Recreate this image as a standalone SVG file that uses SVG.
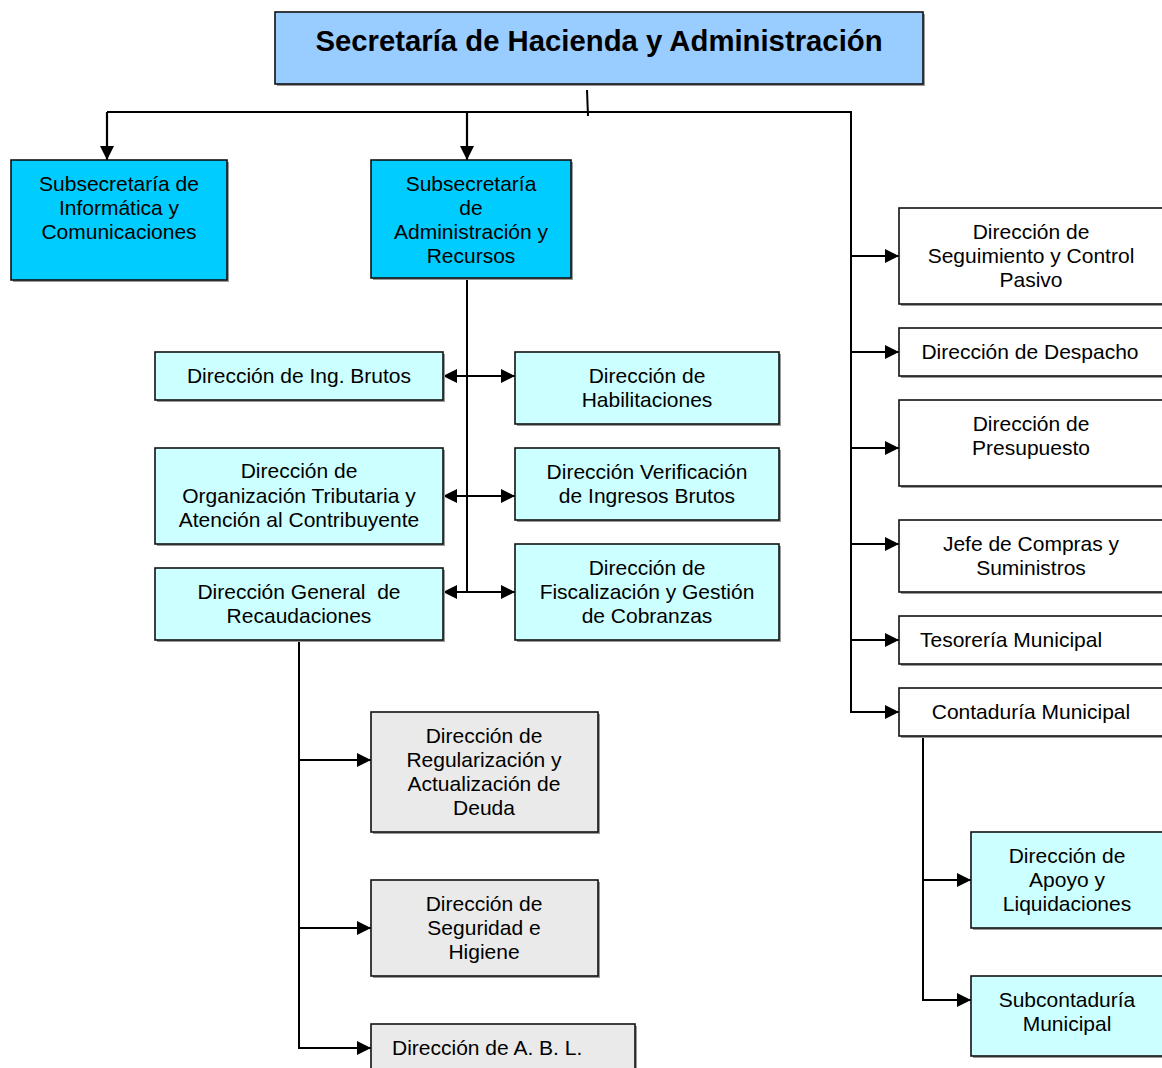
<svg xmlns="http://www.w3.org/2000/svg" width="1162" height="1068" viewBox="0 0 1162 1068">
  <defs>
    <marker id="ah" viewBox="0 0 14 14" refX="14" refY="7" markerWidth="14" markerHeight="14" markerUnits="userSpaceOnUse" orient="auto-start-reverse">
      <path d="M0,0 L14,7 L0,14 Z" fill="#000"/>
    </marker>
  </defs>
  <style>
    .box { stroke: #111; stroke-width: 1.6; }
    .shadow { fill: #9a9a9a; }
    .title { fill: #99ccff; }
    .sub { fill: #00ccff; }
    .light { fill: #ccffff; }
    .grey { fill: #eaeaea; }
    .white { fill: #ffffff; }
    text { font-family: "Liberation Sans", Arial, sans-serif; font-size: 21px; fill: #000; text-anchor: middle; }
    .l { text-anchor: start; }
    .t { font-size: 29.3px; font-weight: bold; }
    .wire { fill: none; stroke: #000; stroke-width: 2; }
    .arr { fill: none; stroke: #000; stroke-width: 2.2; marker-end: url(#ah); }
    .dbl { fill: none; stroke: #000; stroke-width: 2.2; marker-start: url(#ah); marker-end: url(#ah); }
  </style>

  <!-- connectors -->
  <g id="connectors">
    <path class="wire" d="M587,90 L588,116"/>
    <path class="wire" d="M107,112 L851,112 L851,712"/>
    <path class="arr" d="M107,112 L107,160"/>
    <path class="arr" d="M467,112 L467,160"/>
    <path class="wire" d="M467,278 L467,592"/>
    <path class="dbl" d="M443,376 L515,376"/>
    <path class="dbl" d="M443,496 L515,496"/>
    <path class="dbl" d="M443,592 L515,592"/>
    <path class="arr" d="M851,256 L899,256"/>
    <path class="arr" d="M851,352 L899,352"/>
    <path class="arr" d="M851,448 L899,448"/>
    <path class="arr" d="M851,544 L899,544"/>
    <path class="arr" d="M851,640 L899,640"/>
    <path class="arr" d="M850,712 L899,712"/>
    <path class="wire" d="M299,640 L299,1048"/>
    <path class="arr" d="M298,760 L371,760"/>
    <path class="arr" d="M298,928 L371,928"/>
    <path class="arr" d="M298,1048 L371,1048"/>
    <path class="wire" d="M923,736 L923,1000"/>
    <path class="arr" d="M922,880 L971,880"/>
    <path class="arr" d="M922,1000 L971,1000"/>
  </g>

  <!-- top -->
  <g id="secretaria">
    <rect class="shadow" x="277" y="14" width="648" height="72"/>
    <rect class="box title" x="275" y="12" width="648" height="72"/>
    <text class="t" x="599" y="51">Secretaría de Hacienda y Administración</text>
  </g>

  <g id="sub-informatica">
    <rect class="shadow" x="13" y="162" width="216" height="120"/>
    <rect class="box sub" x="11" y="160" width="216" height="120"/>
    <text x="119" y="191">Subsecretaría de</text>
    <text x="119" y="215">Informática y</text>
    <text x="119" y="239">Comunicaciones</text>
  </g>

  <g id="sub-administracion">
    <rect class="shadow" x="373" y="162" width="200" height="118"/>
    <rect class="box sub" x="371" y="160" width="200" height="118"/>
    <text x="471" y="191">Subsecretaría</text>
    <text x="471" y="215">de</text>
    <text x="471" y="239">Administración y</text>
    <text x="471" y="263">Recursos</text>
  </g>

  <!-- middle column -->
  <g id="dir-ing-brutos">
    <rect class="shadow" x="157" y="354" width="288" height="48"/>
    <rect class="box light" x="155" y="352" width="288" height="48"/>
    <text x="299" y="383">Dirección de Ing. Brutos</text>
  </g>

  <g id="dir-habilitaciones">
    <rect class="shadow" x="517" y="354" width="264" height="72"/>
    <rect class="box light" x="515" y="352" width="264" height="72"/>
    <text x="647" y="383">Dirección de</text>
    <text x="647" y="407">Habilitaciones</text>
  </g>

  <g id="dir-organizacion">
    <rect class="shadow" x="157" y="450" width="288" height="96"/>
    <rect class="box light" x="155" y="448" width="288" height="96"/>
    <text x="299" y="478">Dirección de</text>
    <text x="299" y="503">Organización Tributaria y</text>
    <text x="299" y="527">Atención al Contribuyente</text>
  </g>

  <g id="dir-verificacion">
    <rect class="shadow" x="517" y="450" width="264" height="72"/>
    <rect class="box light" x="515" y="448" width="264" height="72"/>
    <text x="647" y="479">Dirección Verificación</text>
    <text x="647" y="503">de Ingresos Brutos</text>
  </g>

  <g id="dir-general-recaudaciones">
    <rect class="shadow" x="157" y="570" width="288" height="72"/>
    <rect class="box light" x="155" y="568" width="288" height="72"/>
    <text x="299" y="599" xml:space="preserve">Dirección General  de</text>
    <text x="299" y="623">Recaudaciones</text>
  </g>

  <g id="dir-fiscalizacion">
    <rect class="shadow" x="517" y="546" width="264" height="96"/>
    <rect class="box light" x="515" y="544" width="264" height="96"/>
    <text x="647" y="575">Dirección de</text>
    <text x="647" y="599">Fiscalización y Gestión</text>
    <text x="647" y="623">de Cobranzas</text>
  </g>

  <!-- under Recaudaciones -->
  <g id="dir-regularizacion">
    <rect class="shadow" x="373" y="714" width="227" height="120"/>
    <rect class="box grey" x="371" y="712" width="227" height="120"/>
    <text x="484" y="743">Dirección de</text>
    <text x="484" y="767">Regularización y</text>
    <text x="484" y="791">Actualización de</text>
    <text x="484" y="815">Deuda</text>
  </g>

  <g id="dir-seguridad">
    <rect class="shadow" x="373" y="882" width="227" height="96"/>
    <rect class="box grey" x="371" y="880" width="227" height="96"/>
    <text x="484" y="911">Dirección de</text>
    <text x="484" y="935">Seguridad e</text>
    <text x="484" y="959">Higiene</text>
  </g>

  <g id="dir-abl">
    <rect class="shadow" x="373" y="1026" width="264" height="60"/>
    <rect class="box grey" x="371" y="1024" width="264" height="60"/>
    <text class="l" x="392" y="1055">Dirección de A. B. L.</text>
  </g>

  <!-- right column -->
  <g id="dir-seguimiento">
    <rect class="shadow" x="901" y="210" width="280" height="96"/>
    <rect class="box white" x="899" y="208" width="280" height="96"/>
    <text x="1031" y="239">Dirección de</text>
    <text x="1031" y="263">Seguimiento y Control</text>
    <text x="1031" y="287">Pasivo</text>
  </g>

  <g id="dir-despacho">
    <rect class="shadow" x="901" y="330" width="280" height="48"/>
    <rect class="box white" x="899" y="328" width="280" height="48"/>
    <text x="1030" y="359">Dirección de Despacho</text>
  </g>

  <g id="dir-presupuesto">
    <rect class="shadow" x="901" y="402" width="280" height="86"/>
    <rect class="box white" x="899" y="400" width="280" height="86"/>
    <text x="1031" y="431">Dirección de</text>
    <text x="1031" y="455">Presupuesto</text>
  </g>

  <g id="jefe-compras">
    <rect class="shadow" x="901" y="522" width="280" height="72"/>
    <rect class="box white" x="899" y="520" width="280" height="72"/>
    <text x="1031" y="551">Jefe de Compras y</text>
    <text x="1031" y="575">Suministros</text>
  </g>

  <g id="tesoreria">
    <rect class="shadow" x="901" y="618" width="280" height="48"/>
    <rect class="box white" x="899" y="616" width="280" height="48"/>
    <text class="l" x="920" y="647">Tesorería Municipal</text>
  </g>

  <g id="contaduria">
    <rect class="shadow" x="901" y="690" width="280" height="48"/>
    <rect class="box white" x="899" y="688" width="280" height="48"/>
    <text x="1031" y="719">Contaduría Municipal</text>
  </g>

  <g id="dir-apoyo">
    <rect class="shadow" x="973" y="834" width="210" height="96"/>
    <rect class="box light" x="971" y="832" width="210" height="96"/>
    <text x="1067" y="863">Dirección de</text>
    <text x="1067" y="887">Apoyo y</text>
    <text x="1067" y="911">Liquidaciones</text>
  </g>

  <g id="subcontaduria">
    <rect class="shadow" x="973" y="978" width="210" height="80"/>
    <rect class="box light" x="971" y="976" width="210" height="80"/>
    <text x="1067" y="1007">Subcontaduría</text>
    <text x="1067" y="1031">Municipal</text>
  </g>
</svg>
